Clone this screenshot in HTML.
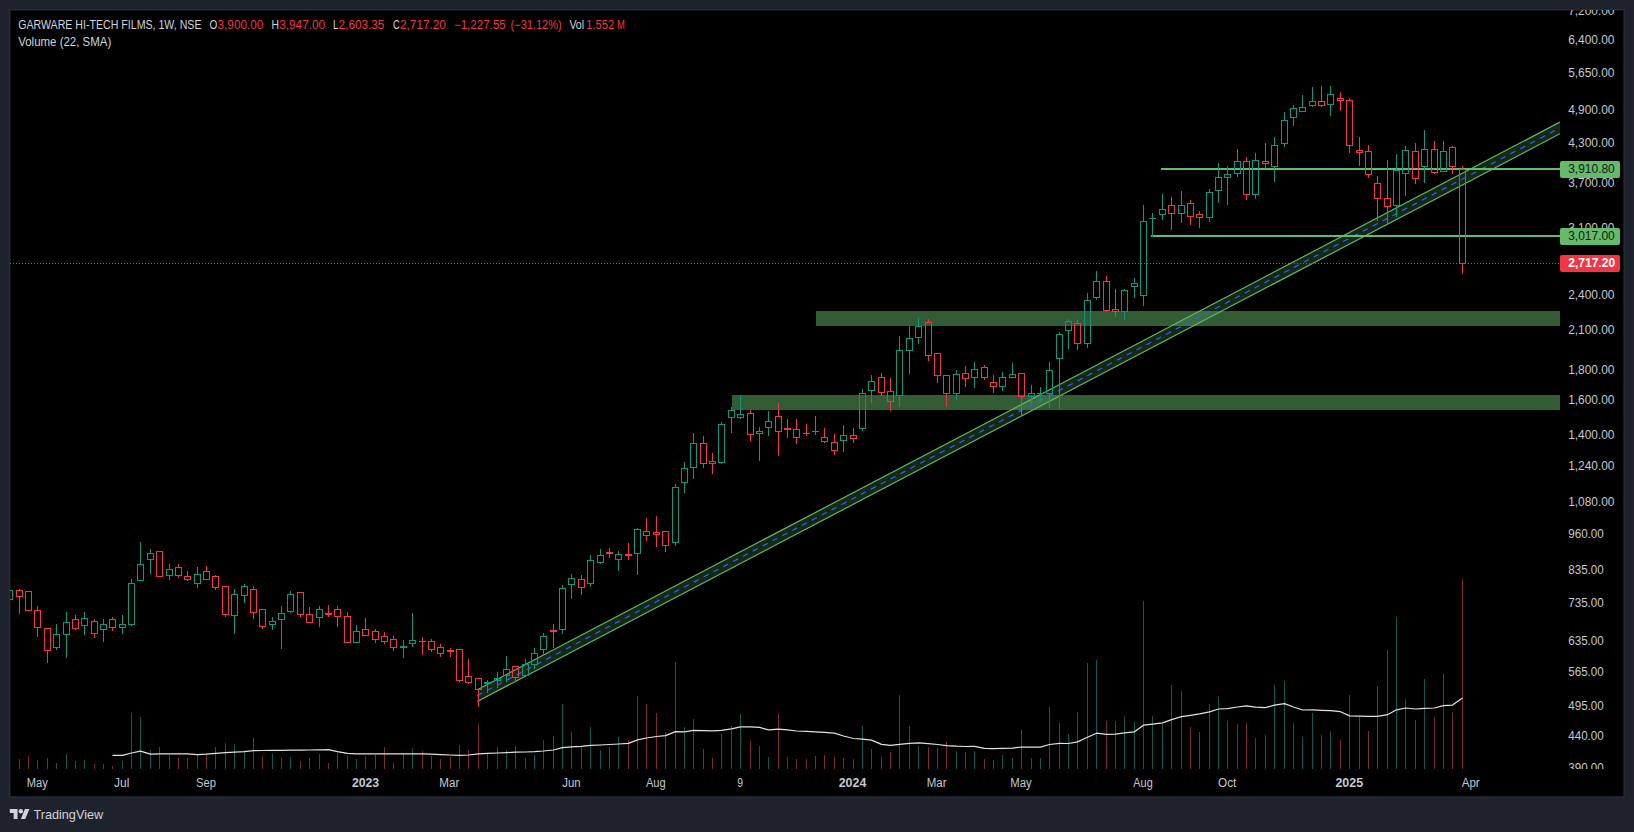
<!DOCTYPE html>
<html lang="en"><head><meta charset="utf-8"><title>GARWARE HI-TECH FILMS chart</title>
<style>
html,body{margin:0;padding:0;background:#1e222d;}
body{width:1634px;height:832px;overflow:hidden;position:relative;font-family:"Liberation Sans", Arial, sans-serif;}
svg{position:absolute;left:0;top:0;display:block;}
text{font-family:"Liberation Sans", Arial, sans-serif;font-size:12px;fill:#d1d4dc;}
.ax{fill:#c5c8d0;}
.b{font-weight:bold;}
.r{fill:#f23645;}
</style></head><body>
<svg width="1634" height="832" viewBox="0 0 1634 832">
<defs><clipPath id="pane"><rect x="10" y="10" width="1550" height="759"/></clipPath><clipPath id="axis"><rect x="1560" y="10" width="64" height="759"/></clipPath></defs>
<rect x="9.7" y="9.7" width="1614.4" height="787.3" fill="#000" stroke="#2a2e39" stroke-width="1.4"/>
<g clip-path="url(#pane)">
<g shape-rendering="crispEdges">
<rect x="19" y="759" width="1" height="10" fill="#7e2a33"/>
<rect x="28" y="756" width="1" height="13" fill="#7e2a33"/>
<rect x="37" y="760" width="1" height="9" fill="#7e2a33"/>
<rect x="47" y="758" width="1" height="11" fill="#7e2a33"/>
<rect x="56" y="763" width="1" height="6" fill="#0d5a50"/>
<rect x="66" y="754" width="1" height="15" fill="#0d5a50"/>
<rect x="75" y="761" width="1" height="8" fill="#7e2a33"/>
<rect x="84" y="760" width="1" height="9" fill="#0d5a50"/>
<rect x="94" y="764" width="1" height="5" fill="#7e2a33"/>
<rect x="103" y="764" width="1" height="5" fill="#0d5a50"/>
<rect x="112" y="766" width="1" height="3" fill="#7e2a33"/>
<rect x="122" y="761" width="1" height="8" fill="#0d5a50"/>
<rect x="131" y="713" width="1" height="56" fill="#0d5a50"/>
<rect x="140" y="717" width="1" height="52" fill="#0d5a50"/>
<rect x="150" y="750" width="1" height="19" fill="#0d5a50"/>
<rect x="159" y="747" width="1" height="22" fill="#7e2a33"/>
<rect x="169" y="755" width="1" height="14" fill="#0d5a50"/>
<rect x="178" y="758" width="1" height="11" fill="#7e2a33"/>
<rect x="187" y="758" width="1" height="11" fill="#7e2a33"/>
<rect x="197" y="755" width="1" height="14" fill="#0d5a50"/>
<rect x="206" y="753" width="1" height="16" fill="#7e2a33"/>
<rect x="215" y="747" width="1" height="22" fill="#7e2a33"/>
<rect x="225" y="743" width="1" height="26" fill="#7e2a33"/>
<rect x="234" y="744" width="1" height="25" fill="#0d5a50"/>
<rect x="244" y="750" width="1" height="19" fill="#0d5a50"/>
<rect x="253" y="738" width="1" height="31" fill="#7e2a33"/>
<rect x="262" y="757" width="1" height="12" fill="#7e2a33"/>
<rect x="272" y="754" width="1" height="15" fill="#0d5a50"/>
<rect x="281" y="758" width="1" height="11" fill="#0d5a50"/>
<rect x="290" y="757" width="1" height="12" fill="#0d5a50"/>
<rect x="300" y="761" width="1" height="8" fill="#7e2a33"/>
<rect x="309" y="758" width="1" height="11" fill="#7e2a33"/>
<rect x="319" y="754" width="1" height="15" fill="#0d5a50"/>
<rect x="328" y="763" width="1" height="6" fill="#7e2a33"/>
<rect x="337" y="753" width="1" height="16" fill="#7e2a33"/>
<rect x="347" y="756" width="1" height="13" fill="#7e2a33"/>
<rect x="356" y="759" width="1" height="10" fill="#0d5a50"/>
<rect x="365" y="756" width="1" height="13" fill="#7e2a33"/>
<rect x="375" y="755" width="1" height="14" fill="#7e2a33"/>
<rect x="384" y="747" width="1" height="22" fill="#7e2a33"/>
<rect x="393" y="763" width="1" height="6" fill="#7e2a33"/>
<rect x="403" y="754" width="1" height="15" fill="#0d5a50"/>
<rect x="412" y="748" width="1" height="21" fill="#0d5a50"/>
<rect x="422" y="751" width="1" height="18" fill="#7e2a33"/>
<rect x="431" y="756" width="1" height="13" fill="#7e2a33"/>
<rect x="440" y="759" width="1" height="10" fill="#7e2a33"/>
<rect x="450" y="757" width="1" height="12" fill="#7e2a33"/>
<rect x="459" y="745" width="1" height="24" fill="#7e2a33"/>
<rect x="468" y="750" width="1" height="19" fill="#7e2a33"/>
<rect x="478" y="724" width="1" height="45" fill="#7e2a33"/>
<rect x="487" y="754" width="1" height="15" fill="#0d5a50"/>
<rect x="497" y="747" width="1" height="22" fill="#0d5a50"/>
<rect x="506" y="750" width="1" height="19" fill="#0d5a50"/>
<rect x="515" y="746" width="1" height="23" fill="#7e2a33"/>
<rect x="525" y="758" width="1" height="11" fill="#0d5a50"/>
<rect x="534" y="755" width="1" height="14" fill="#0d5a50"/>
<rect x="543" y="740" width="1" height="29" fill="#0d5a50"/>
<rect x="553" y="736" width="1" height="33" fill="#7e2a33"/>
<rect x="562" y="704" width="1" height="65" fill="#0d5a50"/>
<rect x="571" y="732" width="1" height="37" fill="#0d5a50"/>
<rect x="581" y="747" width="1" height="22" fill="#7e2a33"/>
<rect x="590" y="727" width="1" height="42" fill="#0d5a50"/>
<rect x="600" y="750" width="1" height="19" fill="#0d5a50"/>
<rect x="609" y="747" width="1" height="22" fill="#7e2a33"/>
<rect x="618" y="737" width="1" height="32" fill="#0d5a50"/>
<rect x="628" y="740" width="1" height="29" fill="#7e2a33"/>
<rect x="637" y="696" width="1" height="73" fill="#0d5a50"/>
<rect x="646" y="704" width="1" height="65" fill="#7e2a33"/>
<rect x="656" y="713" width="1" height="56" fill="#7e2a33"/>
<rect x="665" y="732" width="1" height="37" fill="#7e2a33"/>
<rect x="675" y="662" width="1" height="107" fill="#0d5a50"/>
<rect x="684" y="727" width="1" height="42" fill="#0d5a50"/>
<rect x="693" y="719" width="1" height="50" fill="#0d5a50"/>
<rect x="703" y="749" width="1" height="20" fill="#7e2a33"/>
<rect x="712" y="758" width="1" height="11" fill="#7e2a33"/>
<rect x="721" y="734" width="1" height="35" fill="#0d5a50"/>
<rect x="731" y="726" width="1" height="43" fill="#0d5a50"/>
<rect x="740" y="714" width="1" height="55" fill="#0d5a50"/>
<rect x="750" y="741" width="1" height="28" fill="#7e2a33"/>
<rect x="759" y="746" width="1" height="23" fill="#0d5a50"/>
<rect x="768" y="757" width="1" height="12" fill="#0d5a50"/>
<rect x="778" y="714" width="1" height="55" fill="#7e2a33"/>
<rect x="787" y="757" width="1" height="12" fill="#7e2a33"/>
<rect x="796" y="759" width="1" height="10" fill="#7e2a33"/>
<rect x="806" y="759" width="1" height="10" fill="#7e2a33"/>
<rect x="815" y="756" width="1" height="13" fill="#7e2a33"/>
<rect x="824" y="755" width="1" height="14" fill="#7e2a33"/>
<rect x="834" y="757" width="1" height="12" fill="#7e2a33"/>
<rect x="843" y="758" width="1" height="11" fill="#0d5a50"/>
<rect x="853" y="759" width="1" height="10" fill="#7e2a33"/>
<rect x="862" y="726" width="1" height="43" fill="#0d5a50"/>
<rect x="871" y="749" width="1" height="20" fill="#0d5a50"/>
<rect x="881" y="757" width="1" height="12" fill="#7e2a33"/>
<rect x="890" y="752" width="1" height="17" fill="#7e2a33"/>
<rect x="899" y="695" width="1" height="74" fill="#0d5a50"/>
<rect x="909" y="726" width="1" height="43" fill="#0d5a50"/>
<rect x="918" y="746" width="1" height="23" fill="#0d5a50"/>
<rect x="928" y="747" width="1" height="22" fill="#7e2a33"/>
<rect x="937" y="748" width="1" height="21" fill="#7e2a33"/>
<rect x="946" y="742" width="1" height="27" fill="#7e2a33"/>
<rect x="956" y="751" width="1" height="18" fill="#0d5a50"/>
<rect x="965" y="752" width="1" height="17" fill="#7e2a33"/>
<rect x="974" y="751" width="1" height="18" fill="#0d5a50"/>
<rect x="984" y="759" width="1" height="10" fill="#7e2a33"/>
<rect x="993" y="760" width="1" height="9" fill="#7e2a33"/>
<rect x="1002" y="755" width="1" height="14" fill="#0d5a50"/>
<rect x="1012" y="758" width="1" height="11" fill="#0d5a50"/>
<rect x="1021" y="730" width="1" height="39" fill="#7e2a33"/>
<rect x="1031" y="758" width="1" height="11" fill="#0d5a50"/>
<rect x="1040" y="758" width="1" height="11" fill="#0d5a50"/>
<rect x="1049" y="707" width="1" height="62" fill="#0d5a50"/>
<rect x="1059" y="723" width="1" height="46" fill="#0d5a50"/>
<rect x="1068" y="734" width="1" height="35" fill="#0d5a50"/>
<rect x="1077" y="712" width="1" height="57" fill="#7e2a33"/>
<rect x="1087" y="663" width="1" height="106" fill="#0d5a50"/>
<rect x="1096" y="660" width="1" height="109" fill="#0d5a50"/>
<rect x="1106" y="721" width="1" height="48" fill="#7e2a33"/>
<rect x="1115" y="721" width="1" height="48" fill="#7e2a33"/>
<rect x="1124" y="716" width="1" height="53" fill="#0d5a50"/>
<rect x="1134" y="722" width="1" height="47" fill="#0d5a50"/>
<rect x="1143" y="601" width="1" height="168" fill="#0d5a50"/>
<rect x="1152" y="716" width="1" height="53" fill="#0d5a50"/>
<rect x="1162" y="724" width="1" height="45" fill="#0d5a50"/>
<rect x="1171" y="685" width="1" height="84" fill="#7e2a33"/>
<rect x="1181" y="691" width="1" height="78" fill="#0d5a50"/>
<rect x="1190" y="727" width="1" height="42" fill="#7e2a33"/>
<rect x="1199" y="732" width="1" height="37" fill="#7e2a33"/>
<rect x="1209" y="704" width="1" height="65" fill="#0d5a50"/>
<rect x="1218" y="697" width="1" height="72" fill="#0d5a50"/>
<rect x="1227" y="721" width="1" height="48" fill="#0d5a50"/>
<rect x="1237" y="724" width="1" height="45" fill="#0d5a50"/>
<rect x="1246" y="723" width="1" height="46" fill="#7e2a33"/>
<rect x="1255" y="738" width="1" height="31" fill="#0d5a50"/>
<rect x="1265" y="735" width="1" height="34" fill="#7e2a33"/>
<rect x="1274" y="685" width="1" height="84" fill="#0d5a50"/>
<rect x="1284" y="681" width="1" height="88" fill="#0d5a50"/>
<rect x="1293" y="723" width="1" height="46" fill="#0d5a50"/>
<rect x="1302" y="737" width="1" height="32" fill="#0d5a50"/>
<rect x="1312" y="713" width="1" height="56" fill="#0d5a50"/>
<rect x="1321" y="735" width="1" height="34" fill="#7e2a33"/>
<rect x="1330" y="731" width="1" height="38" fill="#0d5a50"/>
<rect x="1340" y="740" width="1" height="29" fill="#7e2a33"/>
<rect x="1349" y="695" width="1" height="74" fill="#7e2a33"/>
<rect x="1359" y="717" width="1" height="52" fill="#7e2a33"/>
<rect x="1368" y="731" width="1" height="38" fill="#7e2a33"/>
<rect x="1377" y="686" width="1" height="83" fill="#7e2a33"/>
<rect x="1387" y="650" width="1" height="119" fill="#7e2a33"/>
<rect x="1396" y="617" width="1" height="152" fill="#0d5a50"/>
<rect x="1405" y="699" width="1" height="70" fill="#0d5a50"/>
<rect x="1415" y="720" width="1" height="49" fill="#7e2a33"/>
<rect x="1424" y="679" width="1" height="90" fill="#0d5a50"/>
<rect x="1434" y="717" width="1" height="52" fill="#7e2a33"/>
<rect x="1443" y="674" width="1" height="95" fill="#0d5a50"/>
<rect x="1452" y="712" width="1" height="57" fill="#7e2a33"/>
<rect x="1462" y="579" width="1" height="190" fill="#7e2a33"/>
</g>
<rect x="816" y="311" width="744" height="15" fill="#335c35"/>
<rect x="732" y="395" width="828" height="15" fill="#335c35"/>
<polygon points="477.3,689.8 1560.0,122.1 1560.0,133.7 477.3,701.4" fill="rgb(92,175,96)" fill-opacity="0.23"/>
<line x1="477.3" y1="689.8" x2="1560.0" y2="122.1" stroke="#66bb6a" stroke-width="1.15"/>
<line x1="477.3" y1="701.4" x2="1560.0" y2="133.7" stroke="#66bb6a" stroke-width="1.15"/>
<line x1="477.3" y1="695.6" x2="1560.0" y2="127.9" stroke="#2962ff" stroke-width="1.2" stroke-dasharray="5.6 5.51"/>
<rect x="1161" y="168" width="399" height="2" fill="#66bb6a"/>
<rect x="1151" y="235" width="409" height="2" fill="#66bb6a"/>
<line x1="10" y1="263.5" x2="1560" y2="263.5" stroke="#f23645" stroke-width="1" stroke-dasharray="1 2" shape-rendering="crispEdges"/>
<g shape-rendering="crispEdges" fill="none" stroke-width="1">
<rect x="6.5" y="590.5" width="6" height="9" stroke="#089981"/>
<rect x="16.5" y="590.5" width="6" height="6" stroke="#f23645"/><rect x="19" y="589" width="1" height="1" fill="#f23645" stroke="none"/><rect x="19" y="597" width="1" height="17" fill="#f23645" stroke="none"/>
<rect x="25.5" y="591.5" width="6" height="19" stroke="#f23645"/>
<rect x="34.5" y="610.5" width="6" height="17" stroke="#f23645"/><rect x="37" y="606" width="1" height="4" fill="#f23645" stroke="none"/><rect x="37" y="628" width="1" height="9" fill="#f23645" stroke="none"/>
<rect x="44.5" y="628.5" width="6" height="22" stroke="#f23645"/><rect x="47" y="651" width="1" height="12" fill="#f23645" stroke="none"/>
<rect x="53.5" y="634.5" width="6" height="13" stroke="#089981"/><rect x="56" y="624" width="1" height="10" fill="#089981" stroke="none"/><rect x="56" y="648" width="1" height="2" fill="#089981" stroke="none"/>
<rect x="63.5" y="622.5" width="6" height="12" stroke="#089981"/><rect x="66" y="612" width="1" height="10" fill="#089981" stroke="none"/><rect x="66" y="635" width="1" height="23" fill="#089981" stroke="none"/>
<rect x="72.5" y="619.5" width="6" height="9" stroke="#f23645"/><rect x="75" y="615" width="1" height="4" fill="#f23645" stroke="none"/><rect x="75" y="629" width="1" height="1" fill="#f23645" stroke="none"/>
<rect x="81.5" y="618.5" width="6" height="7" stroke="#089981"/><rect x="84" y="612" width="1" height="6" fill="#089981" stroke="none"/><rect x="84" y="626" width="1" height="9" fill="#089981" stroke="none"/>
<rect x="91.5" y="621.5" width="6" height="12" stroke="#f23645"/><rect x="94" y="619" width="1" height="2" fill="#f23645" stroke="none"/><rect x="94" y="634" width="1" height="4" fill="#f23645" stroke="none"/>
<rect x="100.5" y="624.5" width="6" height="5" stroke="#089981"/><rect x="103" y="619" width="1" height="5" fill="#089981" stroke="none"/><rect x="103" y="630" width="1" height="12" fill="#089981" stroke="none"/>
<rect x="109.5" y="619.5" width="6" height="8" stroke="#f23645"/><rect x="112" y="617" width="1" height="2" fill="#f23645" stroke="none"/><rect x="112" y="628" width="1" height="3" fill="#f23645" stroke="none"/>
<rect x="119.5" y="624.5" width="6" height="3" stroke="#089981"/><rect x="122" y="615" width="1" height="9" fill="#089981" stroke="none"/><rect x="122" y="628" width="1" height="6" fill="#089981" stroke="none"/>
<rect x="128.5" y="583.5" width="6" height="41" stroke="#089981"/><rect x="131" y="579" width="1" height="4" fill="#089981" stroke="none"/><rect x="131" y="625" width="1" height="1" fill="#089981" stroke="none"/>
<rect x="137.5" y="564.5" width="6" height="16" stroke="#089981"/><rect x="140" y="542" width="1" height="22" fill="#089981" stroke="none"/>
<rect x="147.5" y="553.5" width="6" height="6" stroke="#089981"/><rect x="150" y="549" width="1" height="4" fill="#089981" stroke="none"/><rect x="150" y="560" width="1" height="14" fill="#089981" stroke="none"/>
<rect x="156.5" y="551.5" width="6" height="25" stroke="#f23645"/>
<rect x="166.5" y="569.5" width="6" height="6" stroke="#089981"/><rect x="169" y="564" width="1" height="5" fill="#089981" stroke="none"/><rect x="169" y="576" width="1" height="4" fill="#089981" stroke="none"/>
<rect x="175.5" y="567.5" width="6" height="8" stroke="#f23645"/><rect x="178" y="564" width="1" height="3" fill="#f23645" stroke="none"/><rect x="178" y="576" width="1" height="2" fill="#f23645" stroke="none"/>
<rect x="184.5" y="576.5" width="6" height="3" stroke="#f23645"/><rect x="187" y="571" width="1" height="5" fill="#f23645" stroke="none"/><rect x="187" y="580" width="1" height="1" fill="#f23645" stroke="none"/>
<rect x="194.5" y="574.5" width="6" height="9" stroke="#089981"/><rect x="197" y="567" width="1" height="7" fill="#089981" stroke="none"/><rect x="197" y="584" width="1" height="4" fill="#089981" stroke="none"/>
<rect x="203.5" y="571.5" width="6" height="8" stroke="#f23645"/><rect x="206" y="566" width="1" height="5" fill="#f23645" stroke="none"/>
<rect x="212.5" y="576.5" width="6" height="11" stroke="#f23645"/><rect x="215" y="575" width="1" height="1" fill="#f23645" stroke="none"/><rect x="215" y="588" width="1" height="2" fill="#f23645" stroke="none"/>
<rect x="222.5" y="586.5" width="6" height="28" stroke="#f23645"/><rect x="225" y="615" width="1" height="2" fill="#f23645" stroke="none"/>
<rect x="231.5" y="594.5" width="6" height="21" stroke="#089981"/><rect x="234" y="589" width="1" height="5" fill="#089981" stroke="none"/><rect x="234" y="616" width="1" height="18" fill="#089981" stroke="none"/>
<rect x="241.5" y="586.5" width="6" height="9" stroke="#089981"/><rect x="244" y="584" width="1" height="2" fill="#089981" stroke="none"/><rect x="244" y="596" width="1" height="7" fill="#089981" stroke="none"/>
<rect x="250.5" y="589.5" width="6" height="23" stroke="#f23645"/><rect x="253" y="586" width="1" height="3" fill="#f23645" stroke="none"/><rect x="253" y="613" width="1" height="6" fill="#f23645" stroke="none"/>
<rect x="259.5" y="609.5" width="6" height="17" stroke="#f23645"/><rect x="262" y="627" width="1" height="2" fill="#f23645" stroke="none"/>
<rect x="269.5" y="621.5" width="6" height="3" stroke="#089981"/><rect x="272" y="617" width="1" height="4" fill="#089981" stroke="none"/><rect x="272" y="625" width="1" height="5" fill="#089981" stroke="none"/>
<rect x="278.5" y="613.5" width="6" height="6" stroke="#089981"/><rect x="281" y="606" width="1" height="7" fill="#089981" stroke="none"/><rect x="281" y="620" width="1" height="29" fill="#089981" stroke="none"/>
<rect x="287.5" y="594.5" width="6" height="17" stroke="#089981"/><rect x="290" y="591" width="1" height="3" fill="#089981" stroke="none"/><rect x="290" y="612" width="1" height="1" fill="#089981" stroke="none"/>
<rect x="297.5" y="592.5" width="6" height="22" stroke="#f23645"/><rect x="300" y="615" width="1" height="2" fill="#f23645" stroke="none"/>
<rect x="306.5" y="614.5" width="6" height="8" stroke="#f23645"/><rect x="309" y="607" width="1" height="7" fill="#f23645" stroke="none"/>
<rect x="316.5" y="609.5" width="6" height="8" stroke="#089981"/><rect x="319" y="606" width="1" height="3" fill="#089981" stroke="none"/><rect x="319" y="618" width="1" height="9" fill="#089981" stroke="none"/>
<rect x="325" y="613" width="7" height="2" fill="#f23645" stroke="none"/><rect x="328" y="605" width="1" height="8" fill="#f23645" stroke="none"/><rect x="328" y="615" width="1" height="2" fill="#f23645" stroke="none"/>
<rect x="334.5" y="609.5" width="6" height="7" stroke="#f23645"/><rect x="337" y="606" width="1" height="3" fill="#f23645" stroke="none"/><rect x="337" y="617" width="1" height="10" fill="#f23645" stroke="none"/>
<rect x="344.5" y="616.5" width="6" height="26" stroke="#f23645"/><rect x="347" y="612" width="1" height="4" fill="#f23645" stroke="none"/>
<rect x="353.5" y="631.5" width="6" height="11" stroke="#089981"/><rect x="356" y="625" width="1" height="6" fill="#089981" stroke="none"/>
<rect x="362.5" y="629.5" width="6" height="6" stroke="#f23645"/><rect x="365" y="618" width="1" height="11" fill="#f23645" stroke="none"/>
<rect x="372.5" y="631.5" width="6" height="8" stroke="#f23645"/><rect x="375" y="629" width="1" height="2" fill="#f23645" stroke="none"/><rect x="375" y="640" width="1" height="3" fill="#f23645" stroke="none"/>
<rect x="381.5" y="636.5" width="6" height="5" stroke="#f23645"/><rect x="384" y="632" width="1" height="4" fill="#f23645" stroke="none"/><rect x="384" y="642" width="1" height="2" fill="#f23645" stroke="none"/>
<rect x="390.5" y="639.5" width="6" height="8" stroke="#f23645"/><rect x="393" y="636" width="1" height="3" fill="#f23645" stroke="none"/><rect x="393" y="648" width="1" height="3" fill="#f23645" stroke="none"/>
<rect x="400" y="646" width="7" height="2" fill="#089981" stroke="none"/><rect x="403" y="640" width="1" height="6" fill="#089981" stroke="none"/><rect x="403" y="648" width="1" height="10" fill="#089981" stroke="none"/>
<rect x="409.5" y="640.5" width="6" height="3" stroke="#089981"/><rect x="412" y="613" width="1" height="27" fill="#089981" stroke="none"/><rect x="412" y="644" width="1" height="3" fill="#089981" stroke="none"/>
<rect x="419" y="641" width="7" height="1" fill="#f23645" stroke="none"/><rect x="422" y="637" width="1" height="4" fill="#f23645" stroke="none"/><rect x="422" y="642" width="1" height="13" fill="#f23645" stroke="none"/>
<rect x="428.5" y="641.5" width="6" height="8" stroke="#f23645"/><rect x="431" y="639" width="1" height="2" fill="#f23645" stroke="none"/><rect x="431" y="650" width="1" height="2" fill="#f23645" stroke="none"/>
<rect x="437.5" y="647.5" width="6" height="6" stroke="#f23645"/><rect x="440" y="644" width="1" height="3" fill="#f23645" stroke="none"/><rect x="440" y="654" width="1" height="3" fill="#f23645" stroke="none"/>
<rect x="447" y="650" width="7" height="2" fill="#f23645" stroke="none"/><rect x="450" y="648" width="1" height="2" fill="#f23645" stroke="none"/><rect x="450" y="652" width="1" height="5" fill="#f23645" stroke="none"/>
<rect x="456.5" y="649.5" width="6" height="31" stroke="#f23645"/><rect x="459" y="681" width="1" height="1" fill="#f23645" stroke="none"/>
<rect x="465.5" y="676.5" width="6" height="6" stroke="#f23645"/><rect x="468" y="659" width="1" height="17" fill="#f23645" stroke="none"/><rect x="468" y="683" width="1" height="1" fill="#f23645" stroke="none"/>
<rect x="475.5" y="678.5" width="6" height="11" stroke="#f23645"/><rect x="478" y="690" width="1" height="17" fill="#f23645" stroke="none"/>
<rect x="484" y="682" width="7" height="2" fill="#089981" stroke="none"/><rect x="487" y="680" width="1" height="2" fill="#089981" stroke="none"/><rect x="487" y="684" width="1" height="9" fill="#089981" stroke="none"/>
<rect x="494.5" y="678.5" width="6" height="2" stroke="#089981"/><rect x="497" y="672" width="1" height="6" fill="#089981" stroke="none"/><rect x="497" y="681" width="1" height="7" fill="#089981" stroke="none"/>
<rect x="503.5" y="669.5" width="6" height="6" stroke="#089981"/><rect x="506" y="656" width="1" height="13" fill="#089981" stroke="none"/><rect x="506" y="676" width="1" height="6" fill="#089981" stroke="none"/>
<rect x="512.5" y="666.5" width="6" height="11" stroke="#f23645"/><rect x="515" y="678" width="1" height="4" fill="#f23645" stroke="none"/>
<rect x="522.5" y="664.5" width="6" height="11" stroke="#089981"/><rect x="525" y="659" width="1" height="5" fill="#089981" stroke="none"/>
<rect x="531.5" y="653.5" width="6" height="11" stroke="#089981"/><rect x="534" y="648" width="1" height="5" fill="#089981" stroke="none"/><rect x="534" y="665" width="1" height="4" fill="#089981" stroke="none"/>
<rect x="540.5" y="636.5" width="6" height="13" stroke="#089981"/><rect x="543" y="633" width="1" height="3" fill="#089981" stroke="none"/><rect x="543" y="650" width="1" height="5" fill="#089981" stroke="none"/>
<rect x="550" y="630" width="7" height="2" fill="#f23645" stroke="none"/><rect x="553" y="624" width="1" height="6" fill="#f23645" stroke="none"/><rect x="553" y="632" width="1" height="16" fill="#f23645" stroke="none"/>
<rect x="559.5" y="588.5" width="6" height="41" stroke="#089981"/><rect x="562" y="585" width="1" height="3" fill="#089981" stroke="none"/><rect x="562" y="630" width="1" height="4" fill="#089981" stroke="none"/>
<rect x="568.5" y="578.5" width="6" height="6" stroke="#089981"/><rect x="571" y="574" width="1" height="4" fill="#089981" stroke="none"/><rect x="571" y="585" width="1" height="14" fill="#089981" stroke="none"/>
<rect x="578.5" y="579.5" width="6" height="8" stroke="#f23645"/><rect x="581" y="575" width="1" height="4" fill="#f23645" stroke="none"/><rect x="581" y="588" width="1" height="7" fill="#f23645" stroke="none"/>
<rect x="587.5" y="560.5" width="6" height="23" stroke="#089981"/><rect x="590" y="555" width="1" height="5" fill="#089981" stroke="none"/><rect x="590" y="584" width="1" height="3" fill="#089981" stroke="none"/>
<rect x="597.5" y="555.5" width="6" height="7" stroke="#089981"/><rect x="600" y="549" width="1" height="6" fill="#089981" stroke="none"/><rect x="600" y="563" width="1" height="1" fill="#089981" stroke="none"/>
<rect x="606" y="552" width="7" height="2" fill="#f23645" stroke="none"/><rect x="609" y="548" width="1" height="4" fill="#f23645" stroke="none"/><rect x="609" y="554" width="1" height="4" fill="#f23645" stroke="none"/>
<rect x="615.5" y="554.5" width="6" height="5" stroke="#089981"/><rect x="618" y="551" width="1" height="3" fill="#089981" stroke="none"/><rect x="618" y="560" width="1" height="11" fill="#089981" stroke="none"/>
<rect x="625" y="554" width="7" height="2" fill="#f23645" stroke="none"/><rect x="628" y="543" width="1" height="11" fill="#f23645" stroke="none"/><rect x="628" y="556" width="1" height="4" fill="#f23645" stroke="none"/>
<rect x="634.5" y="529.5" width="6" height="24" stroke="#089981"/><rect x="637" y="528" width="1" height="1" fill="#089981" stroke="none"/><rect x="637" y="554" width="1" height="21" fill="#089981" stroke="none"/>
<rect x="643.5" y="531.5" width="6" height="4" stroke="#f23645"/><rect x="646" y="518" width="1" height="13" fill="#f23645" stroke="none"/><rect x="646" y="536" width="1" height="5" fill="#f23645" stroke="none"/>
<rect x="653.5" y="532.5" width="6" height="2" stroke="#f23645"/><rect x="656" y="516" width="1" height="16" fill="#f23645" stroke="none"/><rect x="656" y="535" width="1" height="12" fill="#f23645" stroke="none"/>
<rect x="662.5" y="531.5" width="6" height="14" stroke="#f23645"/><rect x="665" y="546" width="1" height="6" fill="#f23645" stroke="none"/>
<rect x="672.5" y="487.5" width="6" height="55" stroke="#089981"/><rect x="675" y="484" width="1" height="3" fill="#089981" stroke="none"/><rect x="675" y="543" width="1" height="3" fill="#089981" stroke="none"/>
<rect x="681.5" y="468.5" width="6" height="14" stroke="#089981"/><rect x="684" y="462" width="1" height="6" fill="#089981" stroke="none"/><rect x="684" y="483" width="1" height="10" fill="#089981" stroke="none"/>
<rect x="690.5" y="443.5" width="6" height="24" stroke="#089981"/><rect x="693" y="433" width="1" height="10" fill="#089981" stroke="none"/><rect x="693" y="468" width="1" height="11" fill="#089981" stroke="none"/>
<rect x="700.5" y="443.5" width="6" height="20" stroke="#f23645"/><rect x="703" y="436" width="1" height="7" fill="#f23645" stroke="none"/><rect x="703" y="464" width="1" height="4" fill="#f23645" stroke="none"/>
<rect x="709.5" y="461.5" width="6" height="2" stroke="#f23645"/><rect x="712" y="453" width="1" height="8" fill="#f23645" stroke="none"/><rect x="712" y="464" width="1" height="10" fill="#f23645" stroke="none"/>
<rect x="718.5" y="424.5" width="6" height="38" stroke="#089981"/><rect x="721" y="422" width="1" height="2" fill="#089981" stroke="none"/><rect x="721" y="463" width="1" height="1" fill="#089981" stroke="none"/>
<rect x="728.5" y="410.5" width="6" height="7" stroke="#089981"/><rect x="731" y="407" width="1" height="3" fill="#089981" stroke="none"/><rect x="731" y="418" width="1" height="15" fill="#089981" stroke="none"/>
<rect x="737.5" y="414.5" width="6" height="3" stroke="#089981"/><rect x="740" y="395" width="1" height="19" fill="#089981" stroke="none"/><rect x="740" y="418" width="1" height="1" fill="#089981" stroke="none"/>
<rect x="747.5" y="413.5" width="6" height="21" stroke="#f23645"/><rect x="750" y="410" width="1" height="3" fill="#f23645" stroke="none"/><rect x="750" y="435" width="1" height="6" fill="#f23645" stroke="none"/>
<rect x="756.5" y="431.5" width="6" height="2" stroke="#089981"/><rect x="759" y="427" width="1" height="4" fill="#089981" stroke="none"/><rect x="759" y="434" width="1" height="27" fill="#089981" stroke="none"/>
<rect x="765.5" y="421.5" width="6" height="6" stroke="#089981"/><rect x="768" y="411" width="1" height="10" fill="#089981" stroke="none"/><rect x="768" y="428" width="1" height="8" fill="#089981" stroke="none"/>
<rect x="775.5" y="416.5" width="6" height="15" stroke="#f23645"/><rect x="778" y="403" width="1" height="13" fill="#f23645" stroke="none"/><rect x="778" y="432" width="1" height="24" fill="#f23645" stroke="none"/>
<rect x="784" y="428" width="7" height="2" fill="#f23645" stroke="none"/><rect x="787" y="419" width="1" height="9" fill="#f23645" stroke="none"/><rect x="787" y="430" width="1" height="8" fill="#f23645" stroke="none"/>
<rect x="793.5" y="429.5" width="6" height="8" stroke="#f23645"/><rect x="796" y="419" width="1" height="10" fill="#f23645" stroke="none"/><rect x="796" y="438" width="1" height="6" fill="#f23645" stroke="none"/>
<rect x="803" y="433" width="7" height="1" fill="#f23645" stroke="none"/><rect x="806" y="424" width="1" height="9" fill="#f23645" stroke="none"/><rect x="806" y="434" width="1" height="2" fill="#f23645" stroke="none"/>
<rect x="812" y="431" width="7" height="1" fill="#f23645" stroke="none"/><rect x="815" y="416" width="1" height="15" fill="#f23645" stroke="none"/><rect x="815" y="432" width="1" height="3" fill="#f23645" stroke="none"/>
<rect x="821.5" y="437.5" width="6" height="4" stroke="#f23645"/><rect x="824" y="428" width="1" height="9" fill="#f23645" stroke="none"/><rect x="824" y="442" width="1" height="1" fill="#f23645" stroke="none"/>
<rect x="831.5" y="442.5" width="6" height="8" stroke="#f23645"/><rect x="834" y="434" width="1" height="8" fill="#f23645" stroke="none"/><rect x="834" y="451" width="1" height="4" fill="#f23645" stroke="none"/>
<rect x="840.5" y="435.5" width="6" height="5" stroke="#089981"/><rect x="843" y="425" width="1" height="10" fill="#089981" stroke="none"/><rect x="843" y="441" width="1" height="11" fill="#089981" stroke="none"/>
<rect x="850.5" y="435.5" width="6" height="3" stroke="#f23645"/><rect x="853" y="428" width="1" height="7" fill="#f23645" stroke="none"/><rect x="853" y="439" width="1" height="4" fill="#f23645" stroke="none"/>
<rect x="859.5" y="393.5" width="6" height="35" stroke="#089981"/><rect x="862" y="389" width="1" height="4" fill="#089981" stroke="none"/><rect x="862" y="429" width="1" height="2" fill="#089981" stroke="none"/>
<rect x="868.5" y="381.5" width="6" height="9" stroke="#089981"/><rect x="871" y="375" width="1" height="6" fill="#089981" stroke="none"/><rect x="871" y="391" width="1" height="12" fill="#089981" stroke="none"/>
<rect x="878.5" y="377.5" width="6" height="15" stroke="#f23645"/><rect x="881" y="373" width="1" height="4" fill="#f23645" stroke="none"/><rect x="881" y="393" width="1" height="3" fill="#f23645" stroke="none"/>
<rect x="887.5" y="391.5" width="6" height="10" stroke="#f23645"/><rect x="890" y="378" width="1" height="13" fill="#f23645" stroke="none"/><rect x="890" y="402" width="1" height="9" fill="#f23645" stroke="none"/>
<rect x="896.5" y="350.5" width="6" height="45" stroke="#089981"/><rect x="899" y="336" width="1" height="14" fill="#089981" stroke="none"/><rect x="899" y="396" width="1" height="11" fill="#089981" stroke="none"/>
<rect x="906.5" y="338.5" width="6" height="12" stroke="#089981"/><rect x="909" y="326" width="1" height="12" fill="#089981" stroke="none"/><rect x="909" y="351" width="1" height="23" fill="#089981" stroke="none"/>
<rect x="915.5" y="326.5" width="6" height="11" stroke="#089981"/><rect x="918" y="318" width="1" height="8" fill="#089981" stroke="none"/><rect x="918" y="338" width="1" height="6" fill="#089981" stroke="none"/>
<rect x="925.5" y="322.5" width="6" height="33" stroke="#f23645"/><rect x="928" y="319" width="1" height="3" fill="#f23645" stroke="none"/><rect x="928" y="356" width="1" height="5" fill="#f23645" stroke="none"/>
<rect x="934.5" y="353.5" width="6" height="22" stroke="#f23645"/><rect x="937" y="376" width="1" height="7" fill="#f23645" stroke="none"/>
<rect x="943.5" y="375.5" width="6" height="18" stroke="#f23645"/><rect x="946" y="394" width="1" height="13" fill="#f23645" stroke="none"/>
<rect x="953.5" y="374.5" width="6" height="19" stroke="#089981"/><rect x="956" y="370" width="1" height="4" fill="#089981" stroke="none"/><rect x="956" y="394" width="1" height="6" fill="#089981" stroke="none"/>
<rect x="962.5" y="373.5" width="6" height="5" stroke="#f23645"/><rect x="965" y="366" width="1" height="7" fill="#f23645" stroke="none"/><rect x="965" y="379" width="1" height="8" fill="#f23645" stroke="none"/>
<rect x="971.5" y="369.5" width="6" height="8" stroke="#089981"/><rect x="974" y="362" width="1" height="7" fill="#089981" stroke="none"/><rect x="974" y="378" width="1" height="10" fill="#089981" stroke="none"/>
<rect x="981.5" y="367.5" width="6" height="10" stroke="#f23645"/><rect x="984" y="365" width="1" height="2" fill="#f23645" stroke="none"/><rect x="984" y="378" width="1" height="2" fill="#f23645" stroke="none"/>
<rect x="990.5" y="382.5" width="6" height="4" stroke="#f23645"/><rect x="993" y="375" width="1" height="7" fill="#f23645" stroke="none"/><rect x="993" y="387" width="1" height="6" fill="#f23645" stroke="none"/>
<rect x="999.5" y="377.5" width="6" height="9" stroke="#089981"/><rect x="1002" y="372" width="1" height="5" fill="#089981" stroke="none"/><rect x="1002" y="387" width="1" height="4" fill="#089981" stroke="none"/>
<rect x="1009.5" y="374.5" width="6" height="3" stroke="#089981"/><rect x="1012" y="363" width="1" height="11" fill="#089981" stroke="none"/>
<rect x="1018.5" y="373.5" width="6" height="23" stroke="#f23645"/><rect x="1021" y="397" width="1" height="18" fill="#f23645" stroke="none"/>
<rect x="1028.5" y="393.5" width="6" height="3" stroke="#089981"/><rect x="1031" y="385" width="1" height="8" fill="#089981" stroke="none"/><rect x="1031" y="397" width="1" height="7" fill="#089981" stroke="none"/>
<rect x="1037" y="393" width="7" height="1" fill="#089981" stroke="none"/><rect x="1040" y="387" width="1" height="6" fill="#089981" stroke="none"/><rect x="1040" y="394" width="1" height="8" fill="#089981" stroke="none"/>
<rect x="1046.5" y="370.5" width="6" height="23" stroke="#089981"/><rect x="1049" y="362" width="1" height="8" fill="#089981" stroke="none"/><rect x="1049" y="394" width="1" height="14" fill="#089981" stroke="none"/>
<rect x="1056.5" y="334.5" width="6" height="24" stroke="#089981"/><rect x="1059" y="332" width="1" height="2" fill="#089981" stroke="none"/><rect x="1059" y="359" width="1" height="50" fill="#089981" stroke="none"/>
<rect x="1065.5" y="321.5" width="6" height="9" stroke="#089981"/><rect x="1068" y="319" width="1" height="2" fill="#089981" stroke="none"/><rect x="1068" y="331" width="1" height="18" fill="#089981" stroke="none"/>
<rect x="1074.5" y="323.5" width="6" height="20" stroke="#f23645"/><rect x="1077" y="320" width="1" height="3" fill="#f23645" stroke="none"/><rect x="1077" y="344" width="1" height="6" fill="#f23645" stroke="none"/>
<rect x="1084.5" y="300.5" width="6" height="43" stroke="#089981"/><rect x="1087" y="293" width="1" height="7" fill="#089981" stroke="none"/><rect x="1087" y="344" width="1" height="4" fill="#089981" stroke="none"/>
<rect x="1093.5" y="281.5" width="6" height="16" stroke="#089981"/><rect x="1096" y="271" width="1" height="10" fill="#089981" stroke="none"/><rect x="1096" y="298" width="1" height="2" fill="#089981" stroke="none"/>
<rect x="1103.5" y="281.5" width="6" height="29" stroke="#f23645"/><rect x="1106" y="276" width="1" height="5" fill="#f23645" stroke="none"/><rect x="1106" y="311" width="1" height="1" fill="#f23645" stroke="none"/>
<rect x="1112.5" y="309.5" width="6" height="2" stroke="#f23645"/><rect x="1115" y="289" width="1" height="20" fill="#f23645" stroke="none"/><rect x="1115" y="312" width="1" height="5" fill="#f23645" stroke="none"/>
<rect x="1121.5" y="290.5" width="6" height="21" stroke="#089981"/><rect x="1124" y="289" width="1" height="1" fill="#089981" stroke="none"/><rect x="1124" y="312" width="1" height="8" fill="#089981" stroke="none"/>
<rect x="1131.5" y="283.5" width="6" height="3" stroke="#089981"/><rect x="1134" y="278" width="1" height="5" fill="#089981" stroke="none"/><rect x="1134" y="287" width="1" height="11" fill="#089981" stroke="none"/>
<rect x="1140.5" y="221.5" width="6" height="74" stroke="#089981"/><rect x="1143" y="205" width="1" height="16" fill="#089981" stroke="none"/><rect x="1143" y="296" width="1" height="10" fill="#089981" stroke="none"/>
<rect x="1149" y="218" width="7" height="1" fill="#089981" stroke="none"/><rect x="1152" y="213" width="1" height="5" fill="#089981" stroke="none"/><rect x="1152" y="219" width="1" height="18" fill="#089981" stroke="none"/>
<rect x="1159.5" y="209.5" width="6" height="5" stroke="#089981"/><rect x="1162" y="194" width="1" height="15" fill="#089981" stroke="none"/><rect x="1162" y="215" width="1" height="5" fill="#089981" stroke="none"/>
<rect x="1168.5" y="205.5" width="6" height="8" stroke="#f23645"/><rect x="1171" y="197" width="1" height="8" fill="#f23645" stroke="none"/><rect x="1171" y="214" width="1" height="16" fill="#f23645" stroke="none"/>
<rect x="1178.5" y="205.5" width="6" height="8" stroke="#089981"/><rect x="1181" y="191" width="1" height="14" fill="#089981" stroke="none"/><rect x="1181" y="214" width="1" height="9" fill="#089981" stroke="none"/>
<rect x="1187.5" y="203.5" width="6" height="13" stroke="#f23645"/><rect x="1190" y="200" width="1" height="3" fill="#f23645" stroke="none"/><rect x="1190" y="217" width="1" height="8" fill="#f23645" stroke="none"/>
<rect x="1196.5" y="214.5" width="6" height="3" stroke="#f23645"/><rect x="1199" y="211" width="1" height="3" fill="#f23645" stroke="none"/><rect x="1199" y="218" width="1" height="10" fill="#f23645" stroke="none"/>
<rect x="1206.5" y="192.5" width="6" height="25" stroke="#089981"/><rect x="1209" y="189" width="1" height="3" fill="#089981" stroke="none"/><rect x="1209" y="218" width="1" height="4" fill="#089981" stroke="none"/>
<rect x="1215.5" y="177.5" width="6" height="13" stroke="#089981"/><rect x="1218" y="163" width="1" height="14" fill="#089981" stroke="none"/><rect x="1218" y="191" width="1" height="12" fill="#089981" stroke="none"/>
<rect x="1224.5" y="174.5" width="6" height="3" stroke="#089981"/><rect x="1227" y="166" width="1" height="8" fill="#089981" stroke="none"/><rect x="1227" y="178" width="1" height="27" fill="#089981" stroke="none"/>
<rect x="1234.5" y="161.5" width="6" height="12" stroke="#089981"/><rect x="1237" y="149" width="1" height="12" fill="#089981" stroke="none"/><rect x="1237" y="174" width="1" height="3" fill="#089981" stroke="none"/>
<rect x="1243.5" y="161.5" width="6" height="33" stroke="#f23645"/><rect x="1246" y="157" width="1" height="4" fill="#f23645" stroke="none"/><rect x="1246" y="195" width="1" height="5" fill="#f23645" stroke="none"/>
<rect x="1252.5" y="160.5" width="6" height="34" stroke="#089981"/><rect x="1255" y="153" width="1" height="7" fill="#089981" stroke="none"/><rect x="1255" y="195" width="1" height="4" fill="#089981" stroke="none"/>
<rect x="1262.5" y="161.5" width="6" height="2" stroke="#f23645"/><rect x="1265" y="143" width="1" height="18" fill="#f23645" stroke="none"/><rect x="1265" y="164" width="1" height="5" fill="#f23645" stroke="none"/>
<rect x="1271.5" y="145.5" width="6" height="21" stroke="#089981"/><rect x="1274" y="137" width="1" height="8" fill="#089981" stroke="none"/><rect x="1274" y="167" width="1" height="15" fill="#089981" stroke="none"/>
<rect x="1281.5" y="120.5" width="6" height="23" stroke="#089981"/><rect x="1284" y="112" width="1" height="8" fill="#089981" stroke="none"/><rect x="1284" y="144" width="1" height="3" fill="#089981" stroke="none"/>
<rect x="1290.5" y="108.5" width="6" height="9" stroke="#089981"/><rect x="1293" y="105" width="1" height="3" fill="#089981" stroke="none"/><rect x="1293" y="118" width="1" height="8" fill="#089981" stroke="none"/>
<rect x="1299.5" y="107.5" width="6" height="4" stroke="#089981"/><rect x="1302" y="95" width="1" height="12" fill="#089981" stroke="none"/>
<rect x="1309.5" y="101.5" width="6" height="4" stroke="#089981"/><rect x="1312" y="87" width="1" height="14" fill="#089981" stroke="none"/><rect x="1312" y="106" width="1" height="1" fill="#089981" stroke="none"/>
<rect x="1318.5" y="101.5" width="6" height="4" stroke="#f23645"/><rect x="1321" y="86" width="1" height="15" fill="#f23645" stroke="none"/><rect x="1321" y="106" width="1" height="1" fill="#f23645" stroke="none"/>
<rect x="1327.5" y="94.5" width="6" height="10" stroke="#089981"/><rect x="1330" y="86" width="1" height="8" fill="#089981" stroke="none"/><rect x="1330" y="105" width="1" height="11" fill="#089981" stroke="none"/>
<rect x="1337.5" y="98.5" width="6" height="2" stroke="#f23645"/><rect x="1340" y="92" width="1" height="6" fill="#f23645" stroke="none"/><rect x="1340" y="101" width="1" height="10" fill="#f23645" stroke="none"/>
<rect x="1346.5" y="100.5" width="6" height="45" stroke="#f23645"/><rect x="1349" y="98" width="1" height="2" fill="#f23645" stroke="none"/><rect x="1349" y="146" width="1" height="7" fill="#f23645" stroke="none"/>
<rect x="1356.5" y="150.5" width="6" height="2" stroke="#f23645"/><rect x="1359" y="137" width="1" height="13" fill="#f23645" stroke="none"/><rect x="1359" y="153" width="1" height="13" fill="#f23645" stroke="none"/>
<rect x="1365.5" y="151.5" width="6" height="23" stroke="#f23645"/><rect x="1368" y="145" width="1" height="6" fill="#f23645" stroke="none"/><rect x="1368" y="175" width="1" height="3" fill="#f23645" stroke="none"/>
<rect x="1374.5" y="183.5" width="6" height="15" stroke="#f23645"/><rect x="1377" y="176" width="1" height="7" fill="#f23645" stroke="none"/><rect x="1377" y="199" width="1" height="22" fill="#f23645" stroke="none"/>
<rect x="1384.5" y="198.5" width="6" height="8" stroke="#f23645"/><rect x="1387" y="160" width="1" height="38" fill="#f23645" stroke="none"/><rect x="1387" y="207" width="1" height="18" fill="#f23645" stroke="none"/>
<rect x="1393.5" y="170.5" width="6" height="35" stroke="#089981"/><rect x="1396" y="154" width="1" height="16" fill="#089981" stroke="none"/><rect x="1396" y="206" width="1" height="11" fill="#089981" stroke="none"/>
<rect x="1402.5" y="150.5" width="6" height="23" stroke="#089981"/><rect x="1405" y="146" width="1" height="4" fill="#089981" stroke="none"/><rect x="1405" y="174" width="1" height="22" fill="#089981" stroke="none"/>
<rect x="1412.5" y="151.5" width="6" height="27" stroke="#f23645"/><rect x="1415" y="143" width="1" height="8" fill="#f23645" stroke="none"/><rect x="1415" y="179" width="1" height="5" fill="#f23645" stroke="none"/>
<rect x="1421.5" y="149.5" width="6" height="17" stroke="#089981"/><rect x="1424" y="130" width="1" height="19" fill="#089981" stroke="none"/><rect x="1424" y="167" width="1" height="16" fill="#089981" stroke="none"/>
<rect x="1431.5" y="149.5" width="6" height="23" stroke="#f23645"/><rect x="1434" y="141" width="1" height="8" fill="#f23645" stroke="none"/><rect x="1434" y="173" width="1" height="1" fill="#f23645" stroke="none"/>
<rect x="1440.5" y="151.5" width="6" height="20" stroke="#089981"/><rect x="1443" y="141" width="1" height="10" fill="#089981" stroke="none"/>
<rect x="1449.5" y="147.5" width="6" height="19" stroke="#f23645"/><rect x="1452" y="146" width="1" height="1" fill="#f23645" stroke="none"/><rect x="1452" y="167" width="1" height="7" fill="#f23645" stroke="none"/>
<rect x="1459.5" y="169.5" width="6" height="94" stroke="#f23645"/><rect x="1462" y="166" width="1" height="3" fill="#f23645" stroke="none"/><rect x="1462" y="264" width="1" height="10" fill="#f23645" stroke="none"/>
</g>
<polyline points="112.5,755.3 122.5,755.3 131.5,753.0 140.5,751.2 150.5,754.2 159.5,753.8 169.5,753.8 178.5,753.8 187.5,753.8 197.5,754.6 206.5,754.2 215.5,753.4 225.5,752.6 234.5,752.2 244.5,751.6 253.5,750.6 262.5,750.5 272.5,750.4 281.5,750.3 290.5,750.2 300.5,750.1 309.5,750.0 319.5,749.8 328.5,749.6 337.5,751.6 347.5,753.4 356.5,753.8 365.5,753.8 375.5,753.8 384.5,753.8 393.5,753.8 403.5,753.8 412.5,753.8 422.5,753.8 431.5,754.2 440.5,754.6 450.5,755.0 459.5,755.3 468.5,755.0 478.5,753.8 487.5,753.4 497.5,753.0 506.5,752.6 515.5,752.2 525.5,752.0 534.5,751.6 543.5,751.0 553.5,750.0 562.5,747.6 571.5,746.8 581.5,746.4 590.5,745.4 600.5,745.0 609.5,744.5 618.5,744.0 628.5,743.3 637.5,739.9 646.5,738.0 656.5,736.5 665.5,735.7 675.5,731.6 684.5,731.8 693.5,730.4 703.5,730.6 712.5,730.8 721.5,730.4 731.5,728.8 740.5,726.8 750.5,726.8 759.5,727.4 768.5,729.8 778.5,729.2 787.5,729.8 796.5,731.0 806.5,731.4 815.5,731.8 824.5,732.4 834.5,733.2 843.5,736.0 853.5,738.5 862.5,739.1 871.5,740.1 881.5,744.3 890.5,745.4 899.5,744.3 909.5,743.3 918.5,742.9 928.5,743.7 937.5,744.5 946.5,745.6 956.5,746.2 965.5,746.5 974.5,746.4 984.5,748.4 993.5,748.6 1002.5,748.4 1012.5,748.2 1021.5,747.0 1031.5,747.2 1040.5,747.2 1049.5,744.5 1059.5,743.3 1068.5,743.5 1077.5,741.9 1087.5,737.3 1096.5,733.2 1106.5,734.4 1115.5,734.2 1124.5,732.8 1134.5,731.8 1143.5,725.2 1152.5,724.1 1162.5,722.9 1171.5,719.7 1181.5,716.7 1190.5,715.3 1199.5,713.8 1209.5,711.8 1218.5,709.0 1227.5,708.6 1237.5,707.0 1246.5,705.8 1255.5,707.2 1265.5,707.6 1274.5,705.2 1284.5,703.7 1293.5,707.0 1302.5,710.0 1312.5,709.8 1321.5,710.3 1330.5,710.7 1340.5,711.7 1349.5,715.9 1359.5,716.2 1368.5,716.4 1377.5,716.4 1387.5,714.7 1396.5,709.8 1405.5,708.0 1415.5,709.0 1424.5,708.3 1434.5,708.0 1443.5,705.6 1452.5,705.1 1462.5,697.9" fill="none" stroke="#e2e2e2" stroke-width="1.25" stroke-linejoin="round"/>
</g>
<g clip-path="url(#axis)">
<text class="ax" x="1568.2" y="15.1" textLength="46.3" lengthAdjust="spacingAndGlyphs">7,200.00</text>
<text class="ax" x="1568.2" y="43.9" textLength="46.3" lengthAdjust="spacingAndGlyphs">6,400.00</text>
<text class="ax" x="1568.2" y="77.0" textLength="46.3" lengthAdjust="spacingAndGlyphs">5,650.00</text>
<text class="ax" x="1568.2" y="113.8" textLength="46.3" lengthAdjust="spacingAndGlyphs">4,900.00</text>
<text class="ax" x="1568.2" y="147.2" textLength="46.3" lengthAdjust="spacingAndGlyphs">4,300.00</text>
<text class="ax" x="1568.2" y="187.0" textLength="46.3" lengthAdjust="spacingAndGlyphs">3,700.00</text>
<text class="ax" x="1568.2" y="232.0" textLength="46.3" lengthAdjust="spacingAndGlyphs">3,100.00</text>
<text class="ax" x="1568.2" y="299.4" textLength="46.3" lengthAdjust="spacingAndGlyphs">2,400.00</text>
<text class="ax" x="1568.2" y="334.0" textLength="46.3" lengthAdjust="spacingAndGlyphs">2,100.00</text>
<text class="ax" x="1568.2" y="373.9" textLength="46.3" lengthAdjust="spacingAndGlyphs">1,800.00</text>
<text class="ax" x="1568.2" y="403.7" textLength="46.3" lengthAdjust="spacingAndGlyphs">1,600.00</text>
<text class="ax" x="1568.2" y="438.5" textLength="46.3" lengthAdjust="spacingAndGlyphs">1,400.00</text>
<text class="ax" x="1568.2" y="470.1" textLength="46.3" lengthAdjust="spacingAndGlyphs">1,240.00</text>
<text class="ax" x="1568.2" y="506.3" textLength="46.3" lengthAdjust="spacingAndGlyphs">1,080.00</text>
<text class="ax" x="1568.2" y="537.8" textLength="35.6" lengthAdjust="spacingAndGlyphs">960.00</text>
<text class="ax" x="1568.2" y="573.9" textLength="35.6" lengthAdjust="spacingAndGlyphs">835.00</text>
<text class="ax" x="1568.2" y="607.0" textLength="35.6" lengthAdjust="spacingAndGlyphs">735.00</text>
<text class="ax" x="1568.2" y="645.1" textLength="35.6" lengthAdjust="spacingAndGlyphs">635.00</text>
<text class="ax" x="1568.2" y="675.8" textLength="35.6" lengthAdjust="spacingAndGlyphs">565.00</text>
<text class="ax" x="1568.2" y="710.2" textLength="35.6" lengthAdjust="spacingAndGlyphs">495.00</text>
<text class="ax" x="1568.2" y="740.0" textLength="35.6" lengthAdjust="spacingAndGlyphs">440.00</text>
<text class="ax" x="1568.2" y="771.6" textLength="35.6" lengthAdjust="spacingAndGlyphs">390.00</text>
</g>
<rect x="1560" y="161" width="60" height="17" rx="2" ry="2" fill="#66bb6a"/>
<text x="1568.2" y="172.6" textLength="46.6" lengthAdjust="spacingAndGlyphs" style="fill:#0b1a0c;">3,910.80</text>
<rect x="1560" y="228" width="60" height="17" rx="2" ry="2" fill="#66bb6a"/>
<text x="1568.2" y="239.6" textLength="46.6" lengthAdjust="spacingAndGlyphs" style="fill:#0b1a0c;">3,017.00</text>
<rect x="1560" y="255" width="60" height="17" rx="2" ry="2" fill="#f23645"/>
<text x="1568.2" y="266.6" textLength="46.9" lengthAdjust="spacingAndGlyphs" style="fill:#ffffff;font-weight:bold;">2,717.20</text>
<text class="ax" x="26.7" y="787" textLength="21.0" lengthAdjust="spacingAndGlyphs">May</text>
<text class="ax" x="114.0" y="787" textLength="15.3" lengthAdjust="spacingAndGlyphs">Jul</text>
<text class="ax" x="196.0" y="787" textLength="20.0" lengthAdjust="spacingAndGlyphs">Sep</text>
<text class="ax b" x="351.9" y="787" textLength="27.3" lengthAdjust="spacingAndGlyphs">2023</text>
<text class="ax" x="439.3" y="787" textLength="20.0" lengthAdjust="spacingAndGlyphs">Mar</text>
<text class="ax" x="562.3" y="787" textLength="18.4" lengthAdjust="spacingAndGlyphs">Jun</text>
<text class="ax" x="645.9" y="787" textLength="19.7" lengthAdjust="spacingAndGlyphs">Aug</text>
<text class="ax" x="737.2" y="787" textLength="5.8" lengthAdjust="spacingAndGlyphs">9</text>
<text class="ax b" x="838.7" y="787" textLength="27.6" lengthAdjust="spacingAndGlyphs">2024</text>
<text class="ax" x="926.8" y="787" textLength="19.8" lengthAdjust="spacingAndGlyphs">Mar</text>
<text class="ax" x="1010.3" y="787" textLength="21.4" lengthAdjust="spacingAndGlyphs">May</text>
<text class="ax" x="1133.3" y="787" textLength="19.4" lengthAdjust="spacingAndGlyphs">Aug</text>
<text class="ax" x="1218.0" y="787" textLength="18.3" lengthAdjust="spacingAndGlyphs">Oct</text>
<text class="ax b" x="1335.4" y="787" textLength="27.7" lengthAdjust="spacingAndGlyphs">2025</text>
<text class="ax" x="1461.7" y="787" textLength="18.0" lengthAdjust="spacingAndGlyphs">Apr</text>
<text x="18.2" y="29.2" textLength="183.3" lengthAdjust="spacingAndGlyphs">GARWARE HI-TECH FILMS, 1W, NSE</text>
<text x="209.4" y="29.2" textLength="7.8" lengthAdjust="spacingAndGlyphs">O</text>
<text class="r" x="217.6" y="29.2" textLength="45.6" lengthAdjust="spacingAndGlyphs">3,900.00</text>
<text x="271.5" y="29.2" textLength="7.5" lengthAdjust="spacingAndGlyphs">H</text>
<text class="r" x="279.3" y="29.2" textLength="45.7" lengthAdjust="spacingAndGlyphs">3,947.00</text>
<text x="332.9" y="29.2" textLength="5.3" lengthAdjust="spacingAndGlyphs">L</text>
<text class="r" x="338.6" y="29.2" textLength="45.7" lengthAdjust="spacingAndGlyphs">2,603.35</text>
<text x="392.9" y="29.2" textLength="6.7" lengthAdjust="spacingAndGlyphs">C</text>
<text class="r" x="400.0" y="29.2" textLength="45.8" lengthAdjust="spacingAndGlyphs">2,717.20</text>
<text class="r" x="453.9" y="29.2" textLength="51.9" lengthAdjust="spacingAndGlyphs">−1,227.55</text>
<text class="r" x="510.6" y="29.2" textLength="51.0" lengthAdjust="spacingAndGlyphs">(−31.12%)</text>
<text x="569.4" y="29.2" textLength="14.7" lengthAdjust="spacingAndGlyphs">Vol</text>
<text class="r" x="586.0" y="29.2" textLength="28.2" lengthAdjust="spacingAndGlyphs">1.552</text>
<text class="r" x="616.9" y="29.2" textLength="7.8" lengthAdjust="spacingAndGlyphs">M</text>
<text x="18.2" y="46.4" textLength="93.1" lengthAdjust="spacingAndGlyphs">Volume (22, SMA)</text>
<g transform="translate(9.8,806.9) scale(0.552)" fill="#d1d4dc"><path d="M14 22H7V11H0V4h14v18z"/><path d="M28 22h-8l7.5-18h8L28 22z"/><circle cx="20" cy="8" r="4"/></g>
<text x="33.4" y="818.6" textLength="69.8" lengthAdjust="spacingAndGlyphs" style="font-size:12.6px">TradingView</text>
</svg>
</body></html>
